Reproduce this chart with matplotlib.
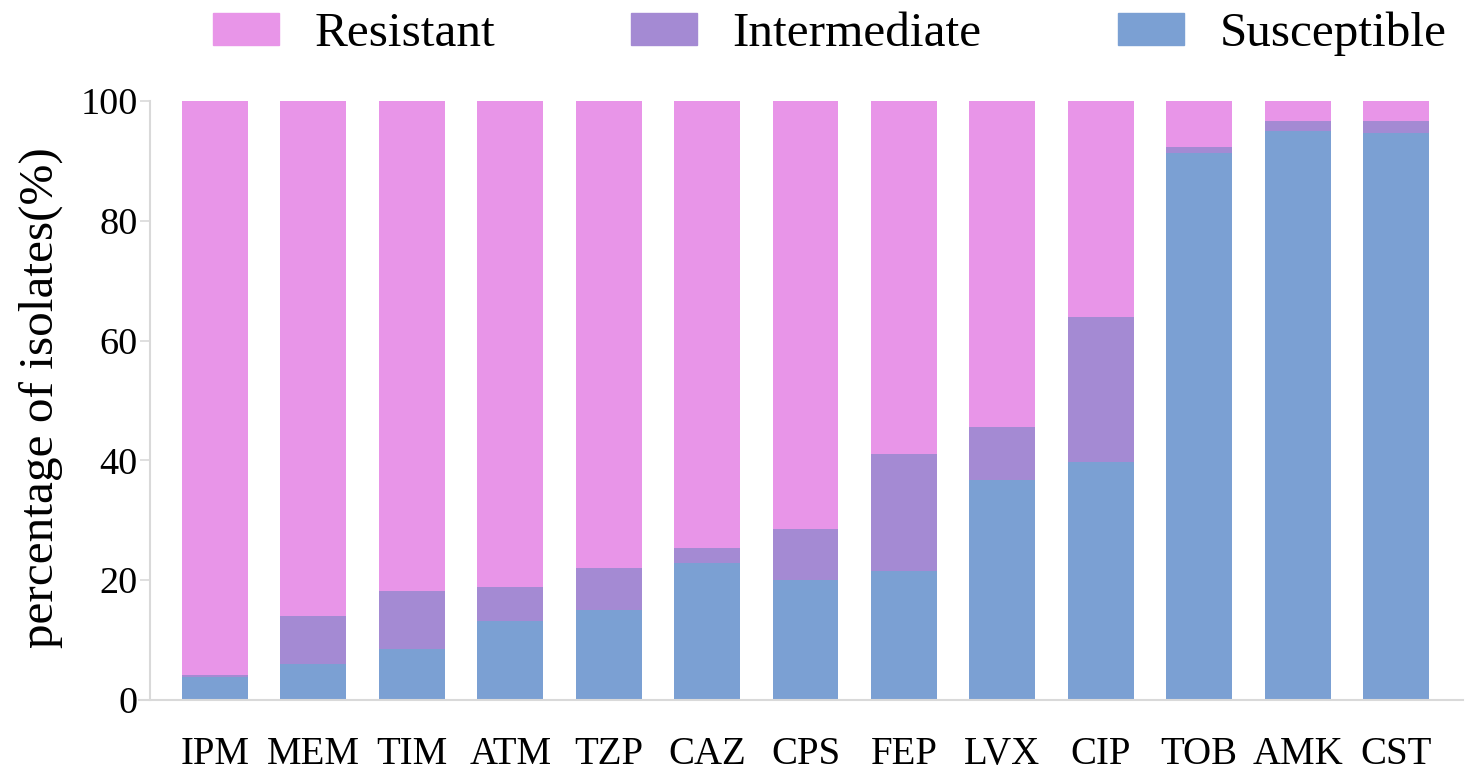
import numpy as np
import matplotlib.pyplot as plt
from matplotlib.patches import Patch

drugs = ['IPM', 'MEM', 'TIM', 'ATM', 'TZP', 'CAZ', 'CPS', 'FEP', 'LVX',
         'CIP', 'TOB', 'AMK', 'CST']
susceptible = np.array([3.8, 6.0, 8.5, 13.2, 15.0, 22.8, 20.0, 21.5, 36.8,
                        39.7, 91.4, 95.0, 94.6])
intermediate = np.array([0.3, 8.1, 9.7, 5.6, 7.1, 2.5, 8.6, 19.6, 8.7,
                         24.2, 1.0, 1.7, 2.1])
resistant = 100 - susceptible - intermediate

c_res = '#e895e8'
c_int = '#a48ad3'
c_sus = '#7ba0d3'

plt.rcParams['font.family'] = ['Liberation Serif', 'DejaVu Serif']

fig = plt.figure(figsize=(14.76, 7.72), dpi=100)
ax = fig.add_axes([150 / 1476, 72 / 772, 1313 / 1476, 599 / 772])

x = np.arange(len(drugs))
w = 0.67
ax.bar(x, susceptible, w, color=c_sus, linewidth=0)
ax.bar(x, intermediate, w, bottom=susceptible, color=c_int, linewidth=0)
ax.bar(x, resistant, w, bottom=susceptible + intermediate, color=c_res,
       linewidth=0)

ax.set_xlim(-0.66, 12.68)
ax.set_ylim(0, 100)
ax.set_yticks([0, 20, 40, 60, 80, 100])
ax.set_xticks(x)
ax.set_xticklabels(drugs)

for s in ['top', 'right']:
    ax.spines[s].set_visible(False)
for s in ['left', 'bottom']:
    ax.spines[s].set_color('#d9d9d9')
    ax.spines[s].set_linewidth(1.5)
ax.spines['bottom'].set_bounds(-0.77, 12.68)

ax.tick_params(axis='y', length=7, width=1.2, color='#d9d9d9', pad=2,
               labelsize=27.5)
ax.tick_params(axis='x', length=0, pad=26, labelsize=28)
ax.set_ylabel('percentage of isolates(%)', fontsize=35.5)
ax.yaxis.set_label_coords(-0.066, 0.505)

handles = [Patch(color=c_res, label='Resistant'),
           Patch(color=c_int, label='Intermediate'),
           Patch(color=c_sus, label='Susceptible')]
fig.legend(handles=handles, loc='center', bbox_to_anchor=(0.562, 0.956),
           ncol=3, frameon=False, fontsize=35.5, handlelength=1.34,
           handleheight=0.62, handletextpad=0.72, columnspacing=2.76,
           borderpad=0)

fig.savefig('out.png', dpi=100)
